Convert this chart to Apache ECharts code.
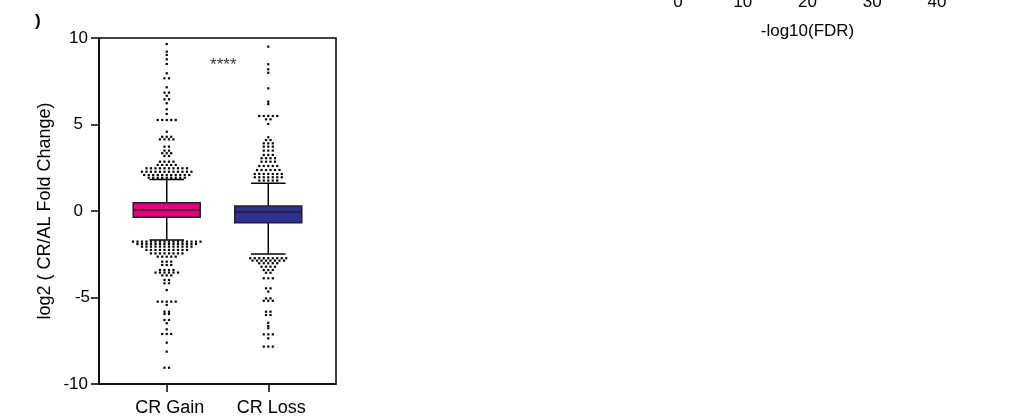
<!DOCTYPE html>
<html>
<head>
<meta charset="utf-8">
<script src="https://cdn.jsdelivr.net/npm/echarts@6/dist/echarts.min.js"></script>
<style>
html,body{margin:0;padding:0;background:#fff;}
#chart{width:1027px;height:418px;}
</style>
</head>
<body>
<div id="chart"></div>
<script>
// ---- data ----
const categories = ['CR Gain', 'CR Loss'];
// [lower whisker, Q1, median, Q3, upper whisker]
const gainBox = [-1.68, -0.36, 0.06, 0.48, 1.82];
const lossBox = [-2.49, -0.68, -0.06, 0.29, 1.60];

// outlier levels (log2 FC) and number of dots at each level
const gainOutlierValues = [9.65, 9.21, 9.02, 8.77, 8.50, 7.96, 7.67, 7.15, 6.84, 6.66, 6.46, 6.23, 5.88, 5.61, 5.26, 4.58, 4.29, 4.14, 3.72, 3.49, 3.34, 3.18, 2.85, 2.66, 2.47, 2.27, 2.08, 1.92,
  -1.77, -1.91, -2.06, -2.25, -2.45, -2.64, -2.93, -3.12, -3.41, -3.56, -3.72, -3.99, -4.18, -4.57, -5.24, -5.43, -5.82, -5.95, -6.30, -6.49, -6.84, -7.11, -7.61, -8.13, -9.06];
const gainOutlierCounts = [1, 1, 1, 1, 1, 1, 2, 1, 2, 1, 2, 1, 1, 1, 5, 1, 3, 4, 2, 2, 3, 2, 4, 5, 10, 12, 11, 9,
  16, 14, 12, 10, 8, 5, 3, 3, 4, 6, 3, 2, 2, 1, 5, 1, 2, 2, 2, 1, 1, 3, 1, 1, 2];

const lossOutlierValues = [9.50, 8.48, 8.19, 7.99, 7.09, 6.32, 6.18, 5.49, 5.30, 5.03, 4.26, 4.10, 3.91, 3.72, 3.49, 3.24, 3.05, 2.85, 2.60, 2.37, 2.14, 1.95, 1.76,
  -2.73, -2.87, -3.02, -3.22, -3.41, -3.57, -3.89, -4.47, -4.66, -5.05, -5.19, -5.82, -6.01, -6.46, -6.65, -6.78, -7.13, -7.36, -7.84];
const lossOutlierCounts = [1, 1, 1, 1, 1, 1, 1, 5, 2, 1, 1, 2, 3, 3, 3, 3, 4, 4, 5, 6, 7, 7, 5,
  9, 8, 5, 4, 3, 2, 3, 2, 1, 2, 3, 2, 2, 1, 1, 1, 3, 1, 3];

const yTicks = [-10, -5, 0, 5, 10];
const fdrTicks = [0, 10, 20, 30, 40];
const significance = '****';

// ---- build ----
function swarm(cat, vals, counts) {
  const out = [];
  vals.forEach((v, i) => {
    const n = counts[i];
    for (let k = 0; k < n; k++) out.push([cat, v, k - (n - 1) / 2]);
  });
  return out;
}
const dots = swarm(0, gainOutlierValues, gainOutlierCounts).concat(swarm(1, lossOutlierValues, lossOutlierCounts));
const boxData = [[0].concat(gainBox), [1].concat(lossBox)];
const boxColors = ['#E5007E', '#2E3192'];

const FONT = 'Liberation Sans, Arial, sans-serif';
const chart = echarts.init(document.getElementById('chart'), null, {renderer: 'canvas'});

function yLabel(v) {
  if (v === 5 || v === 0) return '{s|' + v + '}';
  if (v === -5) return '{m|' + v + '}';
  return '{w|' + v + '}';
}
const yRich = {
  s: {fontSize: 17, fontFamily: FONT, color: '#000', padding: [0, 7, 0, 0]},
  m: {fontSize: 17, fontFamily: FONT, color: '#000', padding: [0, 0, 0, 0]},
  w: {fontSize: 17, fontFamily: FONT, color: '#000', padding: [0, 2, 0, 0]}
};

chart.setOption({
  animation: false,
  backgroundColor: '#fff',
  graphic: [{
    type: 'text', left: 35, top: 13,
    style: {text: ')', font: 'bold 17px ' + FONT, fill: '#000'}
  }],
  grid: [
    {left: 99, top: 38, width: 237, height: 346, show: true, borderColor: '#000', borderWidth: 1.5, backgroundColor: 'transparent'},
    {left: 678, top: -58, width: 259, height: 30}
  ],
  xAxis: [{
    type: 'value', gridIndex: 0, min: -0.667, max: 1.667,
    splitLine: {show: false},
    axisLine: {show: true, onZero: false, lineStyle: {color: '#000', width: 1.5}},
    axisTick: {show: true, customValues: [0, 1], length: 8, lineStyle: {color: '#000', width: 1.5}},
    axisLabel: {show: true, customValues: [0, 1], formatter: v => categories[Math.round(v)], fontSize: 18, fontFamily: FONT, color: '#000', margin: 15, padding: [0, 0, 0, 6]}
  }, {
    type: 'value', gridIndex: 1, min: fdrTicks[0], max: fdrTicks[fdrTicks.length - 1], interval: 10,
    splitLine: {show: false}, axisLine: {show: false}, axisTick: {show: false},
    axisLabel: {fontSize: 17, fontFamily: FONT, color: '#000', margin: 14},
    name: '-log10(FDR)', nameLocation: 'middle', nameGap: 43,
    nameTextStyle: {fontSize: 17, fontFamily: FONT, color: '#000'}
  }],
  yAxis: [{
    type: 'value', gridIndex: 0, min: yTicks[0], max: yTicks[yTicks.length - 1], interval: 5,
    splitLine: {show: false},
    axisLine: {show: true, onZero: false, lineStyle: {color: '#000', width: 1.5}},
    axisTick: {show: true, length: 8, lineStyle: {color: '#000', width: 1.5}},
    axisLabel: {formatter: yLabel, rich: yRich, margin: 9},
    name: 'log2 ( CR/AL Fold Change)', nameLocation: 'middle', nameGap: 45,
    nameTextStyle: {fontSize: 18, fontFamily: FONT, color: '#000'}
  }, {
    type: 'value', gridIndex: 1, show: false
  }],
  series: [{
    type: 'custom', xAxisIndex: 0, yAxisIndex: 0,
    encode: {x: 0, y: [1, 2, 3, 4, 5]},
    data: boxData,
    renderItem: function (params, api) {
      const x = api.value(0);
      const wl = api.value(1), q1 = api.value(2), med = api.value(3), q3 = api.value(4), wh = api.value(5);
      const hw = 0.33, cw = 0.17;
      const pTop = api.coord([x, wh]), pQ3 = api.coord([x, q3]), pQ1 = api.coord([x, q1]), pBot = api.coord([x, wl]);
      const bl = api.coord([x - hw, q3]), br = api.coord([x + hw, q1]);
      const cl = api.coord([x - cw, wh])[0], cr = api.coord([x + cw, wh])[0];
      const pMed = api.coord([x, med]);
      const line = {stroke: '#000', lineWidth: 1.5};
      return {type: 'group', children: [
        {type: 'line', shape: {x1: pTop[0], y1: pTop[1], x2: pQ3[0], y2: pQ3[1]}, style: line},
        {type: 'line', shape: {x1: pQ1[0], y1: pQ1[1], x2: pBot[0], y2: pBot[1]}, style: line},
        {type: 'line', shape: {x1: cl, y1: pTop[1], x2: cr, y2: pTop[1]}, style: line},
        {type: 'line', shape: {x1: cl, y1: pBot[1], x2: cr, y2: pBot[1]}, style: line},
        {type: 'rect', shape: {x: bl[0], y: bl[1], width: br[0] - bl[0], height: br[1] - bl[1]},
          style: {fill: boxColors[params.dataIndex], stroke: '#2a1a2a', lineWidth: 1.5}},
        {type: 'line', shape: {x1: bl[0], y1: pMed[1], x2: br[0], y2: pMed[1]}, style: {stroke: '#2a1a2a', lineWidth: 1.5}}
      ]};
    }
  }, {
    type: 'custom', xAxisIndex: 0, yAxisIndex: 0,
    encode: {x: 0, y: 1},
    data: dots,
    renderItem: function (params, api) {
      const p = api.coord([api.value(0), api.value(1)]);
      const s = 2.2;
      return {type: 'rect', shape: {x: p[0] + api.value(2) * 4.5 - s / 2, y: p[1] - s / 2, width: s, height: s}, style: {fill: '#000'}};
    }
  }, {
    type: 'scatter', xAxisIndex: 0, yAxisIndex: 0, symbolSize: 0,
    data: [[0.557, 8.44]],
    label: {show: true, position: 'inside', formatter: significance, fontSize: 17, fontFamily: FONT, color: '#000'}
  }]
});
</script>
</body>
</html>
